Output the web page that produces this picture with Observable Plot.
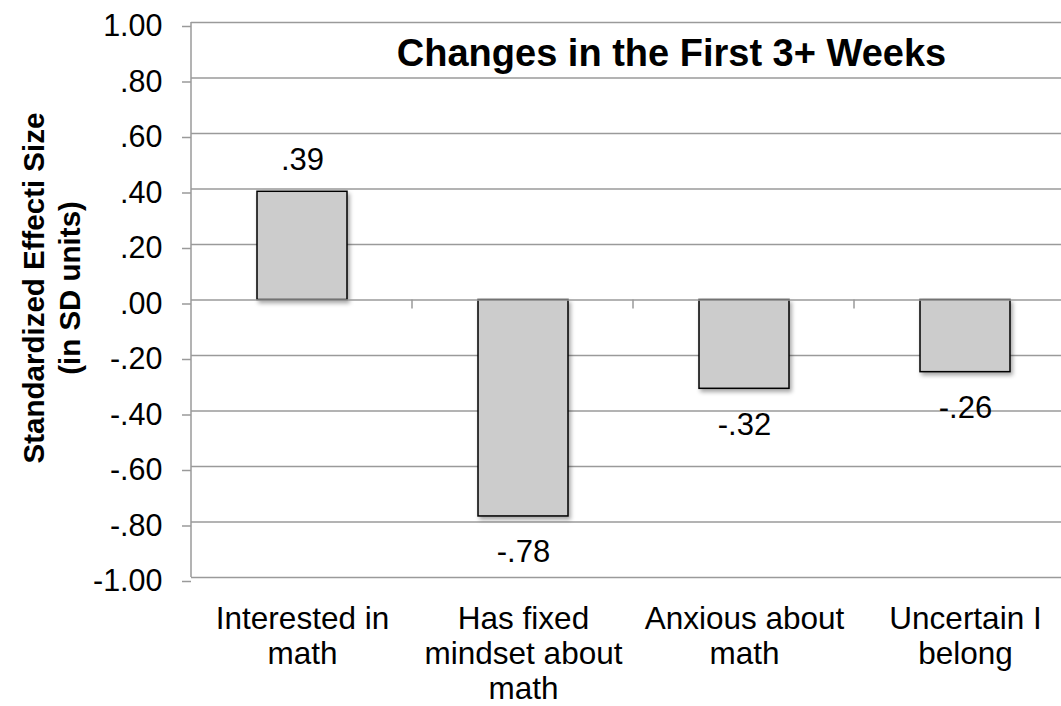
<!DOCTYPE html>
<html>
<head>
<meta charset="utf-8">
<script src="https://cdn.jsdelivr.net/npm/d3@7"></script>
<script src="https://cdn.jsdelivr.net/npm/@observablehq/plot@0.6"></script>
<style>
  html, body { margin: 0; padding: 0; background: #fff; overflow: hidden; }
  #chart svg { display: block; font-family: "Liberation Sans", Arial, sans-serif; }
</style>
</head>
<body>
<div id="chart"></div>
<script>
// Outcome categories (line breaks as shown under the axis)
const categories = [
  "Interested in\nmath",
  "Has fixed\nmindset about\nmath",
  "Anxious about\nmath",
  "Uncertain I\nbelong"
];
// Standardized effect sizes (SD units)
const effects = [0.39, -0.78, -0.32, -0.26];
// Y axis tick values
const yTicks = [-1, -0.8, -0.6, -0.4, -0.2, 0, 0.2, 0.4, 0.6, 0.8, 1];

const title = "Changes in the First 3+ Weeks";
const yLabel = "Standardized Effecti Size\n(in SD units)";

const data = categories.map((c, i) => ({category: c, value: effects[i]}));

// ".39", "-.78", "1.00", ".00" — leading zero dropped
const fmt = v => v.toFixed(2).replace(/^(-?)0\./, "$1.");

const gridColor = "#9a9a9a";

// Left axis line plus the small ticks on the zero line between categories
function baseline(index, scales, values, dimensions) {
  const g = d3.create("svg:g").attr("stroke", gridColor).attr("stroke-width", 1.5);
  const x = scales.x, y = scales.y;
  const step = x(categories[1]) - x(categories[0]);
  const left = dimensions.marginLeft;
  g.append("line")
    .attr("x1", left).attr("x2", left)
    .attr("y1", y(yTicks[0])).attr("y2", y(yTicks[yTicks.length - 1]));
  for (let i = 1; i <= categories.length; i++) {
    const bx = left + i * step;
    g.append("line")
      .attr("x1", bx).attr("x2", bx)
      .attr("y1", y(0)).attr("y2", y(0) + 9);
  }
  return g.node();
}

const chart = Plot.plot({
  width: 1061,
  height: 706,
  marginLeft: 191,
  marginRight: 0,
  marginTop: 22,
  marginBottom: 129,
  style: {fontFamily: '"Liberation Sans", Arial, sans-serif', color: "black", background: "white"},
  x: {domain: categories, range: [191, 1075], paddingInner: 0.593, paddingOuter: 0.2965},
  y: {domain: [-1, 1]},
  marks: [
    // horizontal gridlines
    Plot.ruleY(yTicks.filter(v => v !== 0), {stroke: gridColor, strokeWidth: 1.5}),
    // bars
    Plot.barY(data, {x: "category", y: "value", fill: "#cccccc", stroke: "black", strokeWidth: 1.5}),
    // zero line above the bars
    Plot.ruleY([0], {stroke: gridColor, strokeWidth: 1.5}),
    baseline,
    // y axis
    Plot.axisY({
      ticks: yTicks, tickSize: 9, tickPadding: 20, tickFormat: fmt,
      fontSize: 30.5, stroke: gridColor, strokeWidth: 1.5, fill: "black", dy: 4, label: null
    }),
    // category labels
    Plot.axisX({
      tickSize: 0, tickPadding: 26, fontSize: 31.5, lineHeight: 1.12, fill: "black", label: null
    }),
    // value labels
    Plot.text(data.filter(d => d.value >= 0), {
      x: "category", y: "value", text: d => fmt(d.value),
      fontSize: 31, lineAnchor: "bottom", dy: -22, fill: "black"
    }),
    Plot.text(data.filter(d => d.value < 0), {
      x: "category", y: "value", text: d => fmt(d.value),
      fontSize: 31, lineAnchor: "bottom", dy: 46, fill: "black"
    }),
    // chart title
    Plot.text([title], {
      frameAnchor: "top", text: d => d, fontSize: 38, fontWeight: "bold",
      lineAnchor: "bottom", dx: 45, dy: 43, fill: "black"
    }),
    // y axis title
    Plot.text([yLabel], {
      frameAnchor: "left", textAnchor: "middle", text: d => d, rotate: -90,
      fontSize: 29.5, fontWeight: "bold", lineHeight: 1.22, dx: -141, dy: -12, fill: "black"
    })
  ]
});

// soft drop shadow under the bars
const svg = d3.select(chart);
svg.insert("defs", ":first-child").html(
  '<filter id="barShadow" x="-20%" y="-20%" width="150%" height="150%">' +
  '<feDropShadow dx="2" dy="3" stdDeviation="2" flood-color="#000" flood-opacity="0.35"/></filter>'
);
svg.select('g[aria-label="bar"]').attr("filter", "url(#barShadow)");

document.getElementById("chart").appendChild(chart);
</script>
</body>
</html>
